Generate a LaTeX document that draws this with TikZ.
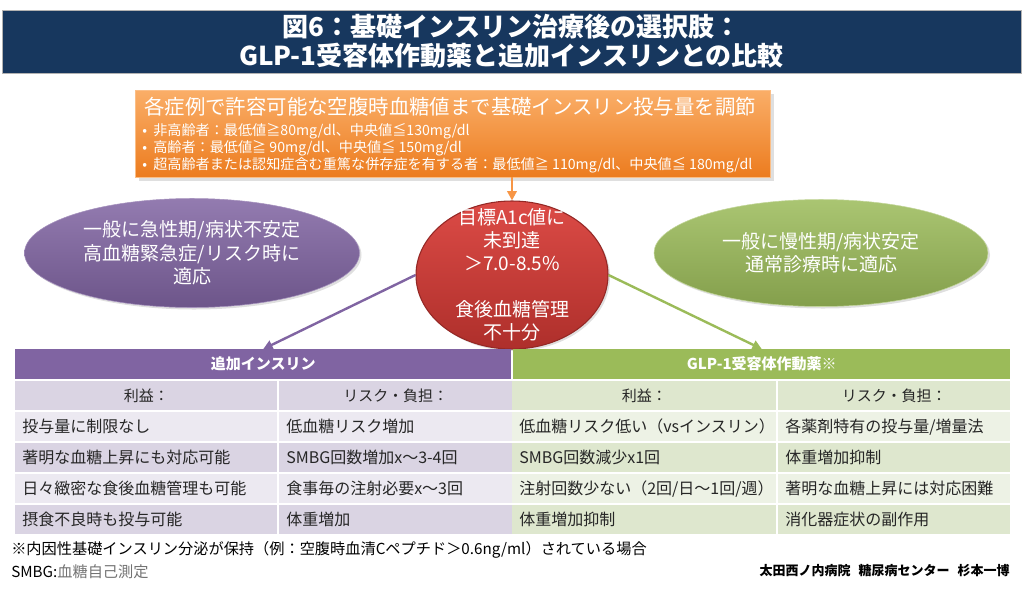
\documentclass[tikz,border=0pt]{standalone}
\usepackage{fontspec}
\setmainfont{Noto Sans CJK JP}
\usepackage{xcolor}
\usepackage{tikz}
\usetikzlibrary{arrows.meta,shapes.geometric,shadows}
\definecolor{navy}{HTML}{17375E}
\definecolor{orgTop}{HTML}{FAAE68}
\definecolor{orgBot}{HTML}{EC7C1F}
\definecolor{orgLine}{HTML}{F79646}
\definecolor{purp}{HTML}{8064A2}
\definecolor{grn}{HTML}{9BBB59}
\definecolor{redTop}{HTML}{DC4B46}
\definecolor{redBot}{HTML}{AE2F2B}
\definecolor{lavDk}{HTML}{DAD4E3}
\definecolor{lavLt}{HTML}{ECE9F1}
\definecolor{grnDk}{HTML}{DEE7CE}
\definecolor{grnLt}{HTML}{EDF2E5}
\newcommand{\fsz}[2]{\fontsize{#1}{#2}\selectfont}

\begin{document}
\begin{tikzpicture}[
  x=0.75pt, y=-0.75pt,
  wtxt/.style={text=white, inner sep=0pt, align=center},
  ell/.style={ellipse, inner sep=0pt, drop shadow={opacity=0.25, shadow xshift=1.5pt, shadow yshift=-1.5pt}},
  arr/.style={-{Triangle[length=7pt,width=7pt]}, line width=1.8pt},
  cell/.style={anchor=north west, inner xsep=5.25pt, inner ysep=0pt, minimum height=21.75pt,
    align=left, text=black!85, font=\fsz{12}{14}},
  sub/.style={cell, align=center, font=\fsz{11.25}{13}},
  hdr/.style={anchor=north west, inner xsep=5.25pt, inner ysep=0pt, minimum height=22.5pt,
    align=center, text=white, font=\bfseries\fsz{11.25}{13}},
  wA/.style={text width=186pt}, wB/.style={text width=164.25pt},
  wC/.style={text width=187.5pt}, wD/.style={text width=163.5pt},
]
\useasboundingbox (0,0) rectangle (1024,590);
\def\xA{15}\def\xB{279}\def\xC{512}\def\xD{778}
% title bar
\node[fill=navy, draw=gray!60, line width=0.4pt, minimum width=764.25pt, minimum height=47.25pt,
  wtxt, font=\bfseries\fsz{19.5}{21.75}] (title) at (511.5,41.5)
  {図6：基礎インスリン治療後の選択肢：\\GLP-1受容体作動薬と追加インスリンとの比較};
% orange target box
\node[draw=orgTop!80!white, top color=orgTop, bottom color=orgBot, minimum width=476.25pt,
  minimum height=65.25pt, inner sep=0pt, drop shadow={opacity=0.25}] (target) at (452.5,133.5) {};
\node[wtxt, anchor=west, font=\fsz{15.3}{17}] (tgtHead) at (144,107)
  {各症例で許容可能な空腹時血糖値まで基礎インスリン投与量を調節};
\node[wtxt, anchor=west, font=\fsz{10.6}{12}] (tgtB1) at (142,131)
  {\makebox[8.25pt][l]{•}非高齢者：最低値≧80mg/dl、中央値≦130mg/dl};
\node[wtxt, anchor=west, font=\fsz{10.6}{12}] (tgtB2) at (142,148)
  {\makebox[8.25pt][l]{•}高齢者：最低値≧ 90mg/dl、中央値≦ 150mg/dl};
\node[wtxt, anchor=west, font=\fsz{10.6}{12}] (tgtB3) at (142,165)
  {\makebox[8.25pt][l]{•}超高齢者または認知症含む重篤な併存症を有する者：最低値≧ 110mg/dl、中央値≦ 180mg/dl};
% three ovals
\node[ell, top color=purp!85!white, bottom color=purp!85!black, draw=purp!70!white,
  minimum width=251.25pt, minimum height=81.75pt] (acute) at (192,253) {};
\node[wtxt, font=\fsz{14.25}{17.6}] (acuteTxt) at (acute.center)
  {一般に急性期/病状不安定\\高血糖緊急症/リスク時に\\適応};
\node[ell, top color=grn!85!white, bottom color=grn!85!black, draw=grn!60!white,
  minimum width=250.5pt, minimum height=80.25pt] (chronic) at (821,253) {};
\node[wtxt, font=\fsz{14.25}{17.1}] (chronicTxt) at (chronic.center)
  {一般に慢性期/病状安定\\通常診療時に適応};
\node[ell, top color=redTop, bottom color=redBot, draw=redBot!85!black,
  line width=0.8pt, minimum width=144pt, minimum height=111pt] (goal) at (512,275) {};
\node[wtxt, font=\fsz{14.25}{17.25}] (goalTxt) at (goal.center)
  {目標A1c値に\\未到達\\＞7.0-8.5\%\\[17.25pt]食後血糖管理\\不十分};
% table headers
\node[hdr, fill=purp, text width=361.5pt] (hdrL) at (\xA,349) {追加インスリン};
\node[hdr, fill=grn, text width=362.25pt] (hdrR) at (513,349) {GLP-1受容体作動薬※};
% arrows
\draw[arr, orgLine] (target.south -| goal.north) -- (goal.north);
\draw[arr, purp] (goal.west) -- (hdrL.north);
\draw[arr, grn] (goal.east) -- (hdrR.north);
% sub headers
\node[sub, wA, fill=lavDk] (subLA) at (\xA,381) {利益：};
\node[sub, wB, fill=lavDk] (subLB) at (\xB,381) {リスク・負担：};
\node[sub, wC, fill=grnDk] (subRC) at (\xC,381) {利益：};
\node[sub, wD, fill=grnDk] (subRD) at (\xD,381) {リスク・負担：};
% row 1
\node[cell, wA, fill=lavLt] (a1) at (\xA,412) {投与量に制限なし};
\node[cell, wB, fill=lavLt] (b1) at (\xB,412) {低血糖リスク増加};
\node[cell, wC, fill=grnLt] (c1) at (\xC,412) {低血糖リスク低い（vsインスリン）};
\node[cell, wD, fill=grnLt] (d1) at (\xD,412) {各薬剤特有の投与量/増量法};
% row 2
\node[cell, wA, fill=lavDk] (a2) at (\xA,443) {著明な血糖上昇にも対応可能};
\node[cell, wB, fill=lavDk] (b2) at (\xB,443) {SMBG回数増加x～3-4回};
\node[cell, wC, fill=grnDk] (c2) at (\xC,443) {SMBG回数減少x1回};
\node[cell, wD, fill=grnDk] (d2) at (\xD,443) {体重増加抑制};
% row 3
\node[cell, wA, fill=lavLt] (a3) at (\xA,474) {日々緻密な食後血糖管理も可能};
\node[cell, wB, fill=lavLt] (b3) at (\xB,474) {食事毎の注射必要x～3回};
\node[cell, wC, fill=grnLt] (c3) at (\xC,474) {注射回数少ない（2回/日～1回/週）};
\node[cell, wD, fill=grnLt] (d3) at (\xD,474) {著明な血糖上昇には対応困難};
% row 4
\node[cell, wA, fill=lavDk] (a4) at (\xA,505) {摂食不良時も投与可能};
\node[cell, wB, fill=lavDk] (b4) at (\xB,505) {体重増加};
\node[cell, wC, fill=grnDk] (c4) at (\xC,505) {体重増加抑制};
\node[cell, wD, fill=grnDk] (d4) at (\xD,505) {消化器症状の副作用};
% footnotes
\node[anchor=west, inner sep=0pt, font=\fsz{11.4}{13}] (note) at (11,550)
  {※内因性基礎インスリン分泌が保持（例：空腹時血清Cペプチド＞0.6ng/ml）されている場合};
\node[anchor=west, inner sep=0pt, font=\fsz{11.4}{13}] (smbg) at (11,572)
  {SMBG:\textcolor{black!55}{血糖自己測定}};
\node[anchor=east, inner sep=0pt, font=\bfseries\fsz{9.75}{11}] (credit) at (1010,571)
  {太田西ノ内病院\hspace{6pt}糖尿病センター\hspace{6pt}杉本一博};
\end{tikzpicture}
\end{document}
